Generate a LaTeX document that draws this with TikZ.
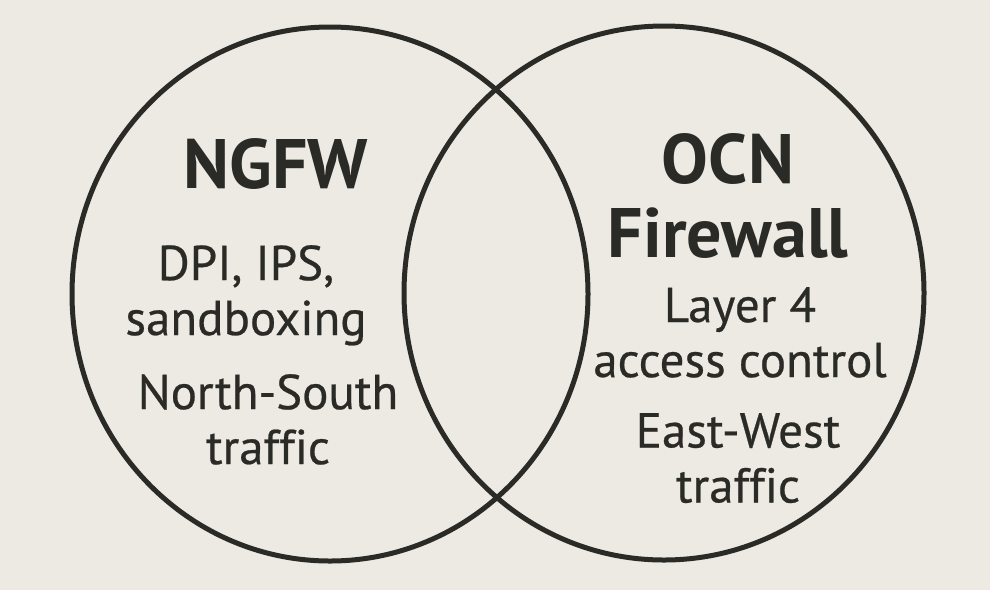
\documentclass[tikz,border=0pt]{standalone}
\usepackage{fontspec}
\setmainfont[Ligatures=NoCommon]{PT Sans}
\newfontfamily\inkfont[Ligatures=NoCommon, FakeBold=0.5]{PT Sans}
\usepackage{tikz}
\definecolor{paper}{HTML}{EDEAE3}
\definecolor{ink}{HTML}{2A2A26}

\tikzset{
    ring/.style={draw=ink, line width=5pt},
    title/.style={font=\fontsize{70}{74}\selectfont\bfseries, text=ink, align=center, inner sep=0pt, anchor=north},
    body/.style={font=\inkfont\fontsize{49}{55}\selectfont, text=ink, align=center, inner sep=0pt, anchor=north}
}

\begin{document}
\begin{tikzpicture}[x=1pt, y=-1pt]
        \fill[paper] (0,0) rectangle (990,590);
        \useasboundingbox (0,0) rectangle (990,590);

        \coordinate (L) at (330,294);
        \coordinate (R) at (664,293);
        \draw[ring] (L) ellipse [x radius=258pt, y radius=267pt];
        \draw[ring] (R) ellipse [x radius=260pt, y radius=267pt];

        % left set
        \node[title] (ngfw) at (276,138) {NGFW};
        \node[body] (dpi) at (246,245) {DPI, IPS,\\sandboxing};
        \node[body] (ns) at (268,374) {North-South\\traffic};

        % right set
        \node[title] (ocn) at (728,133) {OCN\\Firewall};
        \node[body] (l4) at (740,287) {Layer 4\\access control};
        \node[body] (ew) at (738,413) {East-West\\traffic};
\end{tikzpicture}
\end{document}
